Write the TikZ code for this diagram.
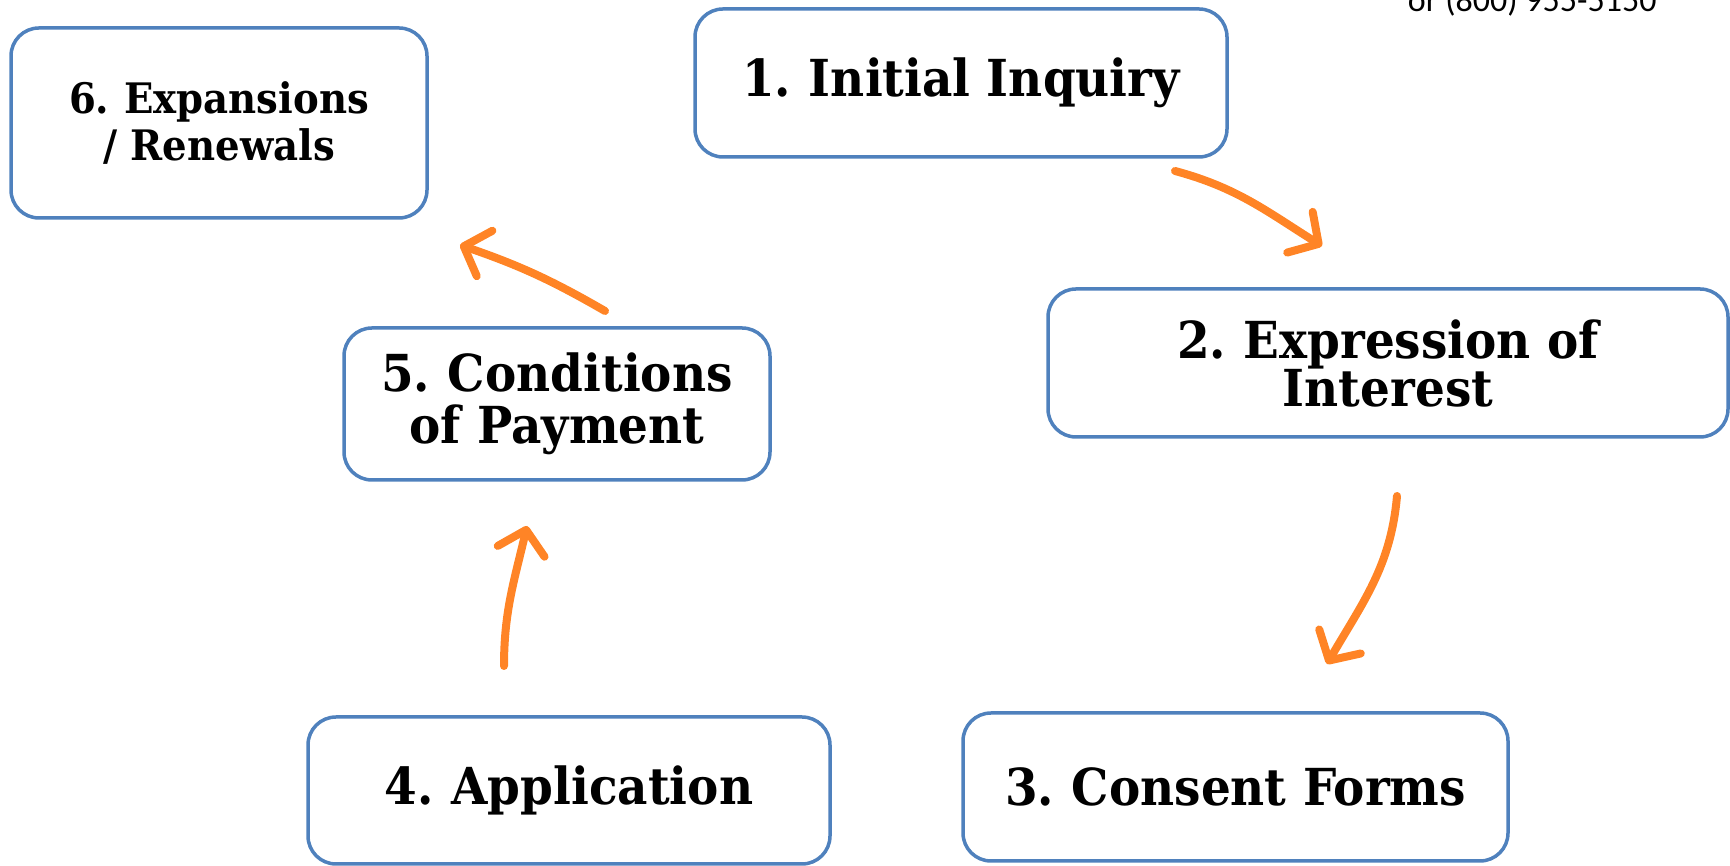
\documentclass[tikz,border=0pt]{standalone}
\usepackage{fontspec}
\setmainfont{DejaVu Serif}[FakeStretch=0.92]
\newfontfamily\phonefont{Carlito}
\usetikzlibrary{arrows.meta}
\definecolor{boxblue}{RGB}{79,129,189}
\definecolor{arrorange}{RGB}{255,132,38}
\tikzset{
  stepbox/.style={draw=boxblue, line width=3.5pt, rounded corners=28pt, fill=white,
    align=center, inner sep=0pt, font=\fontsize{51}{51}\selectfont\bfseries},
  smallbox/.style={stepbox, font=\fontsize{42}{47}\selectfont\bfseries},
  flow/.style={draw=arrorange, line width=8pt, line cap=round,
    -{Straight Barb[length=22pt,width=48pt,round]}}
}
\begin{document}
\begin{tikzpicture}[x=1pt,y=1pt]
\useasboundingbox (0,0) rectangle (1730,866);
\node[anchor=base east, font=\phonefont\fontsize{34}{34}\selectfont] (phone) at (1660,854) {or (800) 955-5150};
\node[stepbox, minimum width=532pt, minimum height=148pt] (b1) at (961,783) {1.\kern-4pt{} Initial Inquiry};
\node[stepbox, minimum width=680pt, minimum height=148pt, font=\fontsize{51}{48}\selectfont\bfseries] (b2) at (1388,503) {2.\kern-4pt{} Expression of\\Interest};
\node[stepbox, minimum width=545pt, minimum height=148pt] (b3) at (1235.5,79) {3.\kern-4pt{} Consent Forms};
\node[stepbox, minimum width=522pt, minimum height=147pt] (b4) at (569,75.5) {4.\kern-4pt{} Application};
\node[stepbox, minimum width=426pt, minimum height=152pt, font=\fontsize{51}{52}\selectfont\bfseries] (b5) at (557,462) {5.\kern-4pt{} Conditions\\of Payment};
\node[smallbox, minimum width=416pt, minimum height=190pt] (b6) at (219,743) {6.\kern-3pt{} Expansions\\/ Renewals};
\coordinate (a1s) at (1175,695); \coordinate (a1e) at (1322,620);
\coordinate (a2s) at (1397,370); \coordinate (a2e) at (1327,202);
\coordinate (a3s) at (504,200);  \coordinate (a3e) at (527,340);
\coordinate (a4s) at (605,555);  \coordinate (a4e) at (460,621);
\draw[flow] (a1s) to[out=-15,in=148] (a1e);
\draw[flow] (a2s) to[out=-95,in=60] (a2e);
\draw[flow] (a3s) to[out=90,in=-103] (a3e);
\draw[flow] (a4s) to[out=150,in=-19] (a4e);
\end{tikzpicture}
\end{document}
